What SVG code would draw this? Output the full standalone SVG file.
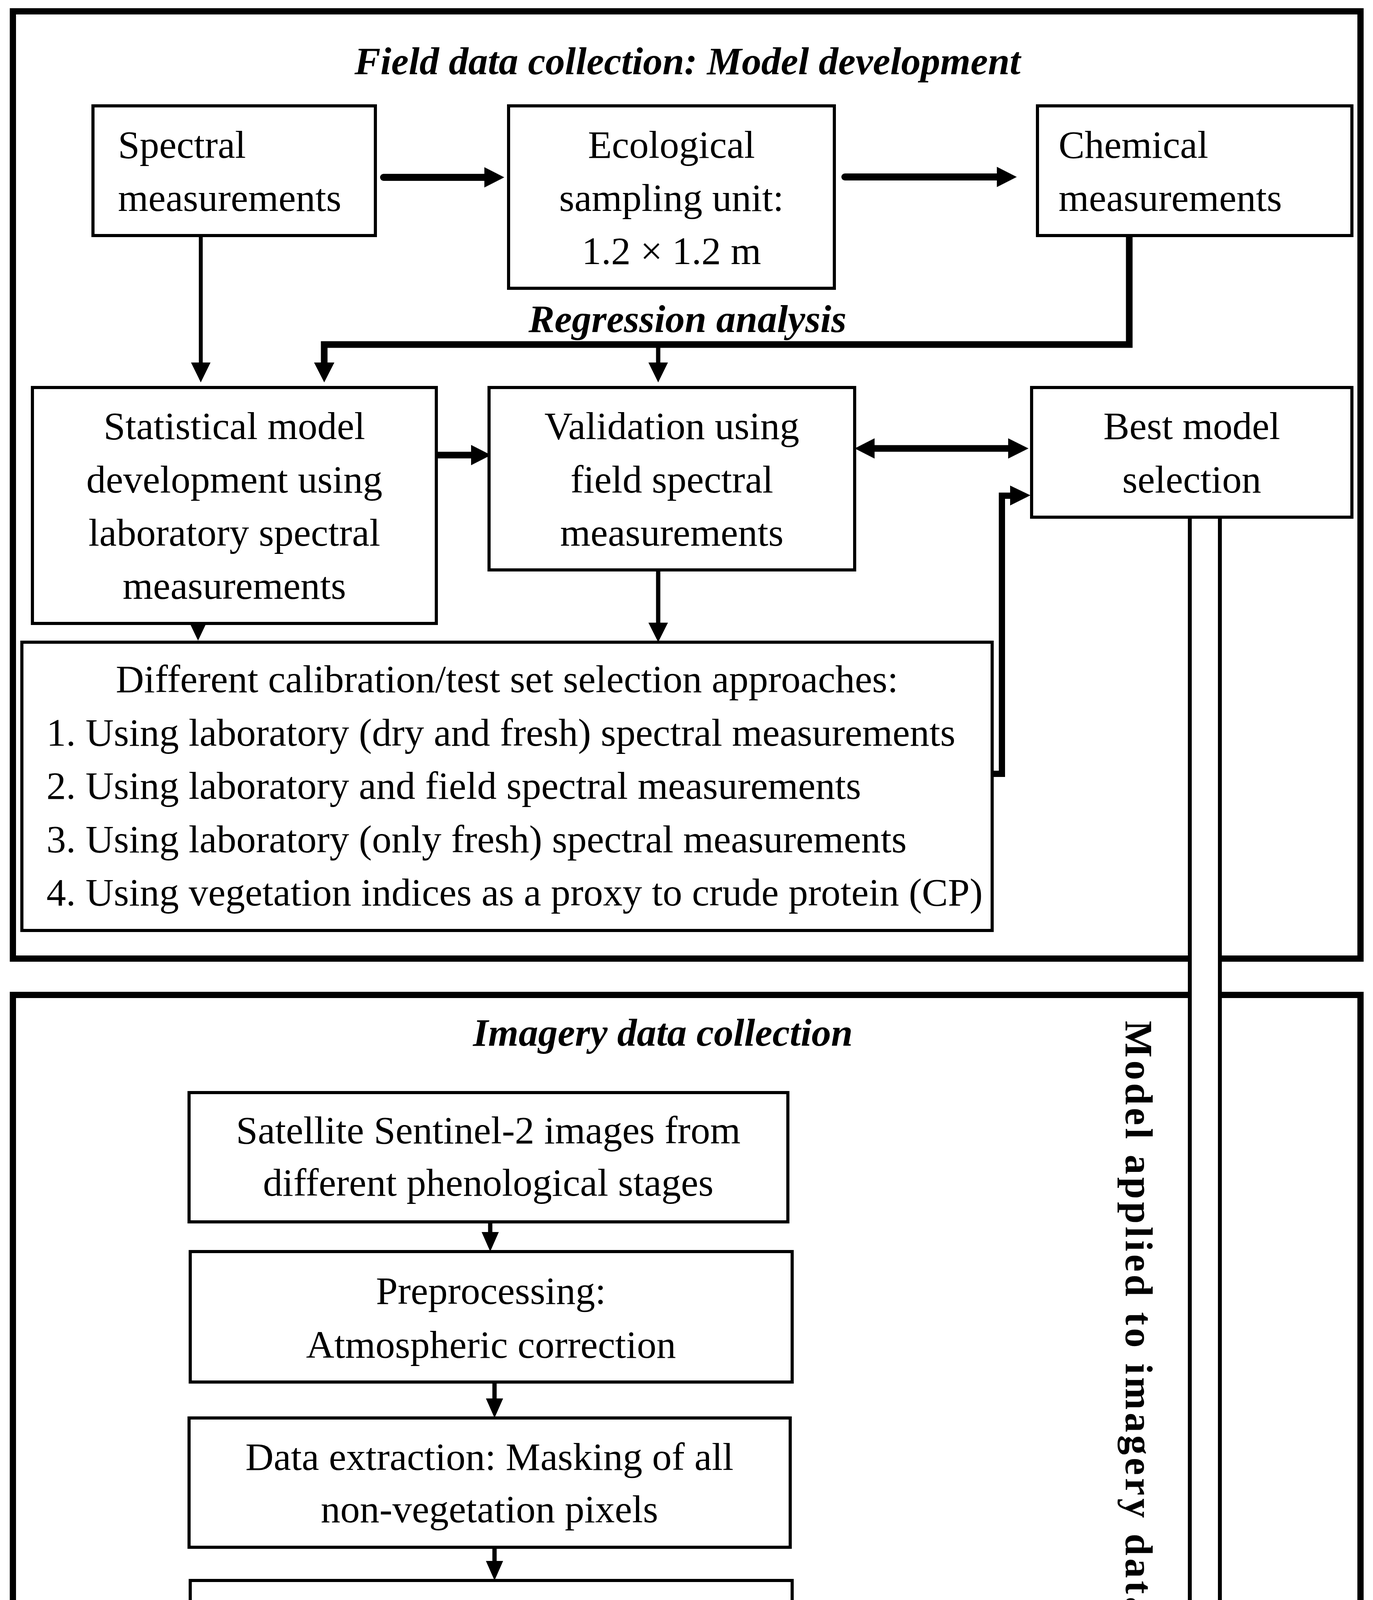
<svg xmlns="http://www.w3.org/2000/svg" width="3515" height="5013" viewBox="0 0 3515 5013">
<style>
.frame{fill:none;stroke:#000;stroke-width:16}
.box{fill:#fff;stroke:#000;stroke-width:8}
.t{font-family:"Liberation Serif","Times New Roman",serif;font-size:100px;fill:#000}
.c{text-anchor:middle}
.bi{font-weight:bold;font-style:italic}
.b{font-weight:bold}
.ln{stroke:#000;fill:none;stroke-linejoin:miter}
.hd{fill:#000;stroke:none}
</style>
<rect width="3515" height="5013" fill="#fff"/>
<g id="frames">
<rect class="frame" x="33" y="29" width="3450" height="2425"/>
<rect class="frame" x="33" y="2547" width="3450" height="2418"/>
<text class="t c bi" x="1760" y="190">Field data collection: Model development</text>
<text class="t c bi" x="1760" y="850">Regression analysis</text>
<text class="t c bi" x="1697" y="2677">Imagery data collection</text>
</g>
<g id="model-applied">
<path d="M3046,1324 V4196 H2339 V4138 L2200,4235 L2339,4332 V4273 H3123 V1324" fill="#fff" stroke="#000" stroke-width="10" stroke-linejoin="miter"/>
<text class="t b" font-size="110" transform="translate(2882,2613) rotate(90)" x="0" y="0" textLength="1525" lengthAdjust="spacing">Model applied to imagery data</text>
</g>
<g id="connectors">
<line class="ln" x1="982" y1="454" x2="1242" y2="454" stroke-width="18" stroke-linecap="round"/>
<polygon class="hd" points="1240,428 1291,454 1240,480"/>
<line class="ln" x1="2163" y1="453" x2="2554" y2="453" stroke-width="18" stroke-linecap="round"/>
<polygon class="hd" points="2552,427 2603,453 2552,479"/>
<line class="ln" x1="514" y1="603" x2="514" y2="930" stroke-width="10"/>
<polygon class="hd" points="489,928 539,928 514,979"/>
<polyline class="ln" points="2891,603 2891,882 830,882 830,930" stroke-width="17"/>
<polygon class="hd" points="804,928 856,928 830,979"/>
<line class="ln" x1="1685" y1="882" x2="1685" y2="930" stroke-width="11"/>
<polygon class="hd" points="1660,928 1710,928 1685,979"/>
<line class="ln" x1="1121" y1="1165" x2="1208" y2="1165" stroke-width="17"/>
<polygon class="hd" points="1206,1139 1257,1165 1206,1191"/>
<line class="ln" x1="2237" y1="1148" x2="2583" y2="1148" stroke-width="17"/>
<polygon class="hd" points="2239,1122 2188,1148 2239,1174"/>
<polygon class="hd" points="2581,1122 2633,1148 2581,1174"/>
<polyline class="ln" points="2540,1981 2565,1981 2565,1269 2588,1269" stroke-width="16"/>
<polygon class="hd" points="2586,1243 2638,1268 2586,1294"/>
<polygon class="hd" points="487,1598 527,1598 507,1640"/>
<line class="ln" x1="1685" y1="1459" x2="1685" y2="1596" stroke-width="11"/>
<polygon class="hd" points="1660,1594 1710,1594 1685,1644"/>
<line class="ln" x1="1255" y1="3128" x2="1255" y2="3156" stroke-width="11"/>
<polygon class="hd" points="1233,3154 1277,3154 1255,3204"/>
<line class="ln" x1="1266" y1="3538" x2="1266" y2="3582" stroke-width="11"/>
<polygon class="hd" points="1244,3580 1288,3580 1266,3630"/>
<line class="ln" x1="1266" y1="3961" x2="1266" y2="3998" stroke-width="11"/>
<polygon class="hd" points="1244,3996 1288,3996 1266,4046"/>
<line class="ln" x1="1255" y1="4514" x2="1255" y2="4542" stroke-width="11"/>
<polygon class="hd" points="1233,4540 1277,4540 1255,4590"/>
<line class="ln" x1="1884" y1="4768" x2="2088" y2="4768" stroke-width="22"/>
<polygon class="hd" points="2084,4740 2141,4768 2084,4796"/>
</g>
<g id="spectral">
<rect class="box" x="238" y="271" width="723" height="332"/>
<text class="t" x="302" y="404">Spectral</text>
<text class="t" x="302" y="540">measurements</text>
</g>
<g id="ecological">
<rect class="box" x="1302" y="271" width="834" height="467"/>
<text class="t c" x="1719" y="404">Ecological</text>
<text class="t c" x="1719" y="540">sampling unit:</text>
<text class="t c" x="1719" y="676">1.2 × 1.2 m</text>
</g>
<g id="chemical">
<rect class="box" x="2656" y="271" width="805" height="332"/>
<text class="t" x="2710" y="404">Chemical</text>
<text class="t" x="2710" y="540">measurements</text>
</g>
<g id="statistical">
<rect class="box" x="83" y="992" width="1034" height="604"/>
<text class="t c" x="600" y="1124">Statistical model</text>
<text class="t c" x="600" y="1261">development using</text>
<text class="t c" x="600" y="1397">laboratory spectral</text>
<text class="t c" x="600" y="1533">measurements</text>
</g>
<g id="validation">
<rect class="box" x="1252" y="992" width="936" height="467"/>
<text class="t c" x="1720" y="1124">Validation using</text>
<text class="t c" x="1720" y="1261">field spectral</text>
<text class="t c" x="1720" y="1397">measurements</text>
</g>
<g id="best-model">
<rect class="box" x="2641" y="992" width="820" height="332"/>
<text class="t c" x="3051" y="1124">Best model</text>
<text class="t c" x="3051" y="1261">selection</text>
</g>
<g id="calibration">
<rect class="box" x="56" y="1644" width="2484" height="738"/>
<text class="t c" x="1298" y="1772">Different calibration/test set selection approaches:</text>
<text class="t" x="119" y="1909">1. Using laboratory (dry and fresh) spectral measurements</text>
<text class="t" x="119" y="2045">2. Using laboratory and field spectral measurements</text>
<text class="t" x="119" y="2182">3. Using laboratory (only fresh) spectral measurements</text>
<text class="t" x="119" y="2318">4. Using vegetation indices as a proxy to crude protein (CP)</text>
</g>
<g id="satellite">
<rect class="box" x="484" y="2797" width="1533" height="331"/>
<text class="t c" x="1250" y="2927">Satellite Sentinel-2 images from</text>
<text class="t c" x="1250" y="3061">different phenological stages</text>
</g>
<g id="preprocessing">
<rect class="box" x="487" y="3204" width="1541" height="334"/>
<text class="t c" x="1257" y="3338">Preprocessing:</text>
<text class="t c" x="1257" y="3476">Atmospheric correction</text>
</g>
<g id="extraction">
<rect class="box" x="484" y="3630" width="1539" height="331"/>
<text class="t c" x="1253" y="3763">Data extraction: Masking of all</text>
<text class="t c" x="1253" y="3897">non-vegetation pixels</text>
</g>
<g id="ndf-cp-maps">
<rect class="box" x="487" y="4046" width="1541" height="468"/>
<text class="t c" x="1257" y="4177">Neutral detergent fiber (NDF) and</text>
<text class="t c" x="1257" y="4311">CP maps generated for different</text>
<text class="t c" x="1257" y="4445">phenological stages</text>
</g>
<g id="validation-chemical">
<rect class="box" x="624" y="4590" width="1260" height="334"/>
<text class="t c" x="1254" y="4721">Validation against chemical</text>
<text class="t c" x="1254" y="4855">measurements</text>
</g>
<g id="verified">
<rect class="box" x="2145" y="4590" width="975" height="334"/>
<text class="t c b" x="2632" y="4721">Verified maps of</text>
<text class="t c b" x="2632" y="4855">NDF and CP</text>
</g>
</svg>
